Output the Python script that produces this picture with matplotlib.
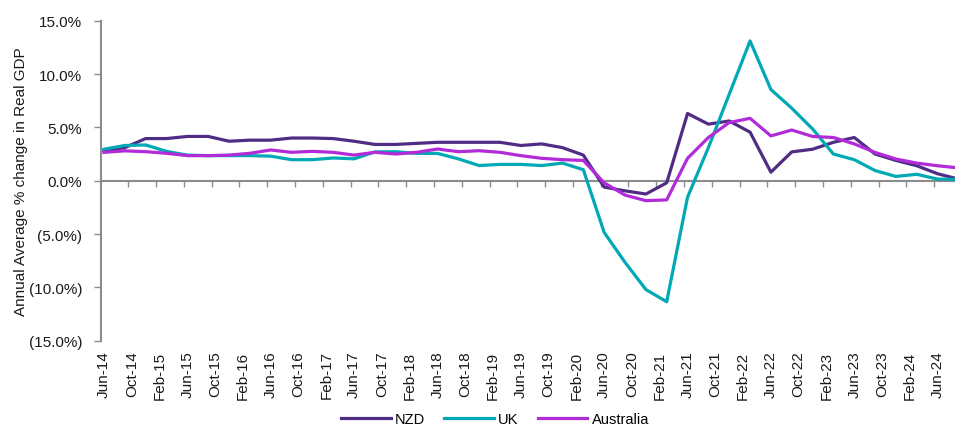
import numpy as np
import matplotlib.pyplot as plt
from matplotlib.ticker import FuncFormatter, FixedLocator

plt.rcParams['font.family'] = ['Liberation Sans', 'DejaVu Sans']

# quarterly observations, Jun-14 .. Sep-24
quarters = ["Jun-14", "Sep-14", "Dec-14", "Mar-15", "Jun-15", "Sep-15", "Dec-15", "Mar-16",
            "Jun-16", "Sep-16", "Dec-16", "Mar-17", "Jun-17", "Sep-17", "Dec-17", "Mar-18",
            "Jun-18", "Sep-18", "Dec-18", "Mar-19", "Jun-19", "Sep-19", "Dec-19", "Mar-20",
            "Jun-20", "Sep-20", "Dec-20", "Mar-21", "Jun-21", "Sep-21", "Dec-21", "Mar-22",
            "Jun-22", "Sep-22", "Dec-22", "Mar-23", "Jun-23", "Sep-23", "Dec-23", "Mar-24",
            "Jun-24", "Sep-24"]

nzd = [2.8, 3.1, 3.95, 3.95, 4.15, 4.15, 3.7, 3.8, 3.8, 4.0, 4.0, 3.95, 3.7, 3.4,
       3.4, 3.5, 3.6, 3.6, 3.6, 3.6, 3.3, 3.45, 3.1, 2.4, -0.6, -0.95, -1.25, -0.2,
       6.3, 5.3, 5.6, 4.55, 0.8, 2.7, 2.95, 3.6, 4.05, 2.5, 1.9, 1.4, 0.65, 0.15]
uk = [2.95, 3.3, 3.35, 2.75, 2.4, 2.35, 2.35, 2.35, 2.3, 1.97, 1.97, 2.13, 2.05, 2.7,
      2.72, 2.56, 2.56, 2.05, 1.42, 1.53, 1.53, 1.42, 1.65, 1.03, -4.85, -7.65, -10.2, -11.35,
      -1.55, 3.1, 8.1, 13.1, 8.55, 6.8, 4.85, 2.5, 1.97, 0.95, 0.4, 0.6, 0.15, 0.12]
australia = [2.66, 2.8, 2.72, 2.57, 2.35, 2.35, 2.4, 2.57, 2.88, 2.66, 2.75, 2.66, 2.4, 2.66,
             2.5, 2.66, 2.97, 2.72, 2.81, 2.66, 2.35, 2.1, 1.97, 1.9, -0.2, -1.35, -1.87, -1.8,
             2.1, 4.05, 5.45, 5.85, 4.2, 4.75, 4.15, 4.05, 3.45, 2.65, 2.03, 1.65, 1.4, 1.2]

tick_labels = ["Jun-14", "Oct-14", "Feb-15", "Jun-15", "Oct-15", "Feb-16", "Jun-16", "Oct-16",
               "Feb-17", "Jun-17", "Oct-17", "Feb-18", "Jun-18", "Oct-18", "Feb-19", "Jun-19",
               "Oct-19", "Feb-20", "Jun-20", "Oct-20", "Feb-21", "Jun-21", "Oct-21", "Feb-22",
               "Jun-22", "Oct-22", "Feb-23", "Jun-23", "Oct-23", "Feb-24", "Jun-24"]

# monthly category slots, one observation every third month
x = np.arange(len(quarters)) * 3
tick_pos = np.arange(len(tick_labels)) * 4

grey = '#8c8c8c'
txt = '#1a1a1a'

fig = plt.figure(figsize=(9.55, 4.35), dpi=100)
ax = fig.add_axes([100.5 / 955, 1 - 341.7 / 435, 854.5 / 955, 320 / 435])

ax.plot(x, nzd, color='#4F2D84', lw=2.3, label='NZD')
ax.plot(x, uk, color='#00A9B5', lw=2.3, label='UK')
ax.plot(x, australia, color='#B12BD8', lw=2.3, label='Australia')

ax.set_xlim(-0.5, 122.5)
ax.set_ylim(-15, 15)
ax.set_yticks([-15, -10, -5, 0, 5, 10, 15])


def pct(v, pos):
    if v < 0:
        return "({:.1f}%)".format(-v)
    return "{:.1f}%".format(v)


ax.yaxis.set_major_formatter(FuncFormatter(pct))
ax.tick_params(axis='y', direction='out', length=5, width=1, color=grey,
               labelsize=11, labelcolor=txt, pad=8)

ax.set_xticks(tick_pos)
ax.set_xticklabels(tick_labels, rotation=90, fontsize=11, color=txt)
ax.tick_params(axis='x', length=0, pad=7)

for s in ['top', 'right', 'bottom']:
    ax.spines[s].set_visible(False)
ax.spines['left'].set_color(grey)
ax.spines['left'].set_linewidth(1.5)

# zero line with tick marks between label groups
sec = ax.secondary_xaxis(0.5)
sec.set_alignment('bottom')
sec.xaxis.set_major_locator(FixedLocator(tick_pos[1:] - 0.5))
sec.set_xticklabels([])
sec.tick_params(axis='x', direction='out', length=4, width=1, color=grey)
for s in sec.spines.values():
    s.set_color(grey)
    s.set_linewidth(1.5)

ax.set_ylabel("Annual Average % change in Real GDP", fontsize=11, color=txt)
ax.yaxis.set_label_coords(-0.085, 0.5)

fig.legend(loc='center', bbox_to_anchor=(495 / 955, 1 - 420 / 435), ncol=3,
           frameon=False, fontsize=10.5, handlelength=3.4, columnspacing=1.3,
           handletextpad=0.3)

fig.savefig("out.png", dpi=100)
